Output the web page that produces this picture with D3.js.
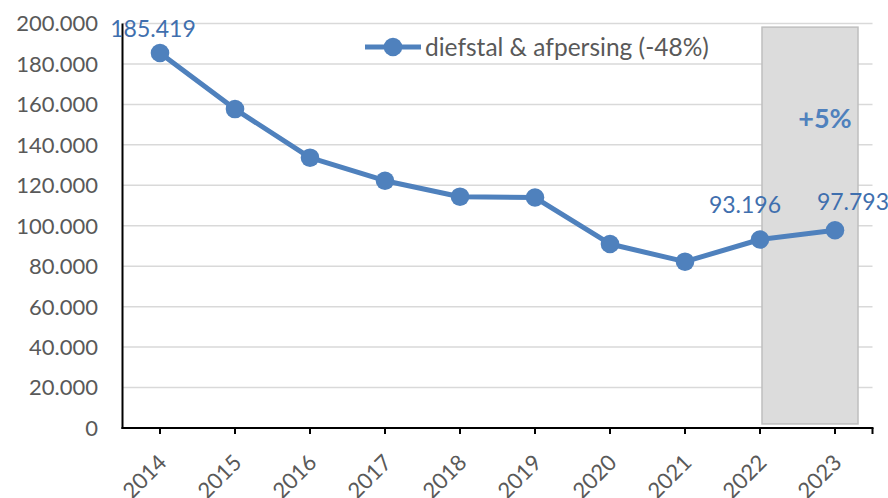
<!DOCTYPE html>
<html>
<head>
<meta charset="utf-8">
<script src="https://cdn.jsdelivr.net/npm/d3@7"></script>
<style>
  body { margin: 0; background: #fff; }
  svg { display: block; font-family: Lato, 'Open Sans', sans-serif; }
</style>
</head>
<body>
<div id="chart"></div>
<script>
// data
var years = ['2014', '2015', '2016', '2017', '2018', '2019', '2020', '2021', '2022', '2023']
var values = [185419, 157700, 133650, 122270, 114370, 113950, 90980, 82230, 93196, 97793]
var yTicks = [0, 20000, 40000, 60000, 80000, 100000, 120000, 140000, 160000, 180000, 200000]
var seriesName = 'diefstal & afpersing (-48%)'
var labelledYears = ['2014', '2022', '2023']
var highlightYears = ['2022', '2023']
var highlightText = '+5%'

var width = 888
var height = 498
var plotLeft = 122.5
var plotRight = 872.5
var plotTop = 23.5
var plotBottom = 428

var blue = '#4f81bd'
var labelBlue = '#3f6fae'
var grey = '#595959'

var svg = d3.select('#chart')
    .append('svg')
    .attr('width', width)
    .attr('height', height)

var x = d3.scaleBand()
    .domain(years)
    .range([plotLeft, plotRight])

var y = d3.scaleLinear()
    .domain([0, 200000])
    .range([plotBottom, plotTop])

var cx = (d) => x(d) + x.bandwidth() / 2
var fmt = (v) => v === 0 ? '0' : d3.format(',')(v).replace(/,/g, '.')

// gridlines
svg.append('g')
    .selectAll('line')
    .data(yTicks.filter((d) => d > 0))
    .enter()
    .append('line')
    .attr('x1', plotLeft)
    .attr('x2', plotRight)
    .attr('y1', (d) => y(d))
    .attr('y2', (d) => y(d))
    .attr('stroke', '#d9d9d9')
    .attr('stroke-width', 1.5)

// highlight box over the last years
svg.append('rect')
    .attr('x', cx(highlightYears[0]) + 2)
    .attr('y', y(198200))
    .attr('width', cx(highlightYears[1]) + 23 - cx(highlightYears[0]) - 2)
    .attr('height', y(2000) - y(198200))
    .attr('fill', '#dcdcdc')
    .attr('stroke', '#bfbfbf')
    .attr('stroke-width', 1.5)

svg.append('text')
    .attr('x', cx(highlightYears[1]) - 10)
    .attr('y', y(148500))
    .attr('text-anchor', 'middle')
    .attr('font-size', 27)
    .attr('font-weight', 'bold')
    .attr('fill', blue)
    .text(highlightText)

// y axis labels
svg.append('g')
    .selectAll('text')
    .data(yTicks)
    .enter()
    .append('text')
    .attr('x', 98)
    .attr('y', (d) => y(d))
    .attr('dy', '0.36em')
    .attr('text-anchor', 'end')
    .attr('font-size', 22)
    .attr('fill', grey)
    .text(fmt)

// axes lines
svg.append('line')
    .attr('x1', plotLeft).attr('x2', plotLeft)
    .attr('y1', plotTop).attr('y2', plotBottom + 1)
    .attr('stroke', '#000').attr('stroke-width', 2)

svg.append('line')
    .attr('x1', plotLeft - 1).attr('x2', plotRight + 1)
    .attr('y1', plotBottom).attr('y2', plotBottom)
    .attr('stroke', '#000').attr('stroke-width', 2)

svg.append('g')
    .selectAll('line')
    .data(years)
    .enter()
    .append('line')
    .attr('x1', (d) => cx(d))
    .attr('x2', (d) => cx(d))
    .attr('y1', plotBottom)
    .attr('y2', plotBottom + 6)
    .attr('stroke', '#000')
    .attr('stroke-width', 2)

svg.append('line')
    .attr('x1', plotRight).attr('x2', plotRight)
    .attr('y1', plotBottom).attr('y2', plotBottom + 6)
    .attr('stroke', '#000').attr('stroke-width', 2)

// x labels
svg.append('g')
    .selectAll('text')
    .data(years)
    .enter()
    .append('text')
    .attr('text-anchor', 'end')
    .attr('font-size', 22)
    .attr('fill', grey)
    .attr('transform', (d) => 'translate(' + (cx(d) + 8) + ',' + (plotBottom + 36) + ')rotate(-45)')
    .text((d) => d)

// line
var line = d3.line()
    .x((d, i) => cx(years[i]))
    .y((d) => y(d))

svg.append('path')
    .datum(values)
    .attr('d', line)
    .attr('fill', 'none')
    .attr('stroke', blue)
    .attr('stroke-width', 5)
    .attr('stroke-linejoin', 'round')

svg.append('g')
    .selectAll('circle')
    .data(values)
    .enter()
    .append('circle')
    .attr('cx', (d, i) => cx(years[i]))
    .attr('cy', (d) => y(d))
    .attr('r', 9.3)
    .attr('fill', blue)

// data labels (moved by hand in the original)
var labelShift = { '2014': [-7, -16], '2022': [-15, -27], '2023': [18, -20] }

svg.append('g')
    .selectAll('text')
    .data(labelledYears)
    .enter()
    .append('text')
    .attr('x', (d) => cx(d) + labelShift[d][0])
    .attr('y', (d) => y(values[years.indexOf(d)]) + labelShift[d][1])
    .attr('text-anchor', 'middle')
    .attr('font-size', 23)
    .attr('fill', labelBlue)
    .text((d) => fmt(values[years.indexOf(d)]))

// legend
var legend = svg.append('g')
    .attr('transform', 'translate(365, 47)')

legend.append('line')
    .attr('x1', 0).attr('x2', 56)
    .attr('stroke', blue)
    .attr('stroke-width', 5)

legend.append('circle')
    .attr('cx', 28)
    .attr('r', 9.3)
    .attr('fill', blue)

legend.append('text')
    .attr('x', 60)
    .attr('dy', '0.36em')
    .attr('font-size', 24.5)
    .attr('fill', grey)
    .text(seriesName)
</script>
</body>
</html>
